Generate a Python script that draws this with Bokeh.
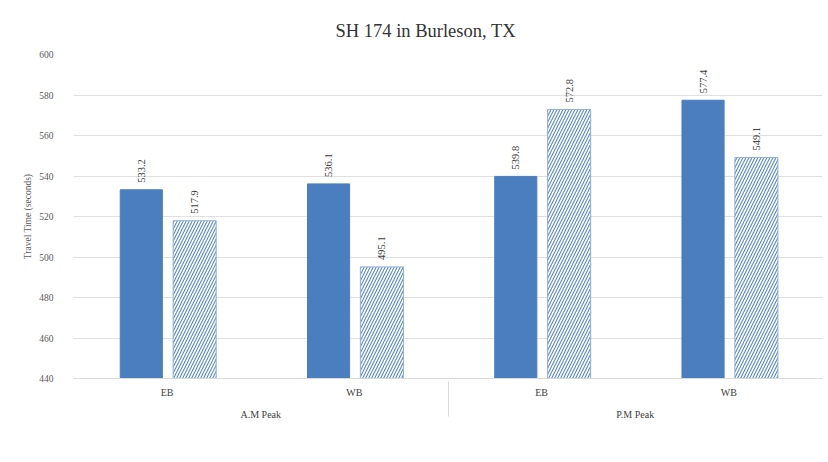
from bokeh.plotting import figure
from bokeh.models import (ColumnDataSource, FactorRange, Legend, LegendItem,
                          LabelSet, FixedTicker)
from bokeh.transform import dodge
from bokeh.embed import file_html
from bokeh.resources import INLINE

periods = ["A.M Peak", "A.M Peak", "P.M Peak", "P.M Peak"]
directions = ["EB", "WB", "EB", "WB"]
normal_tod = [533.2, 536.1, 539.8, 577.4]
weather_responsive = [517.9, 495.1, 572.8, 549.1]
y_ticks = [440, 460, 480, 500, 520, 540, 560, 580, 600]

factors = list(zip(periods, directions))
src = ColumnDataSource(dict(
    x=factors,
    normal=normal_tod,
    weather=weather_responsive,
    normal_lbl=[f"{v:.1f}" for v in normal_tod],
    weather_lbl=[f"{v:.1f}" for v in weather_responsive],
))

FONT = "Liberation Serif"
BLUE = "#4a7ebf"

p = figure(frame_width=749, frame_height=324, output_backend="svg",
           toolbar_location=None,
           x_range=FactorRange(*factors, factor_padding=0, group_padding=0,
                               range_padding=0),
           y_range=(440, 600),
           min_border_left=73, min_border_right=6, min_border_top=54,
           min_border_bottom=60,
           title="SH 174 in Burleson, TX")

p.title.align = "left"
p.title.offset = 262
p.title.text_font = FONT
p.title.text_font_size = "18.5px"
p.title.text_font_style = "normal"
p.title.text_color = "#333333"
p.title.standoff = 27

r1 = p.vbar(x=dodge("x", -0.138, range=p.x_range), top="normal", bottom=440,
            width=0.225, source=src, fill_color=BLUE, line_color=BLUE)
r2 = p.vbar(x=dodge("x", 0.147, range=p.x_range), top="weather", bottom=440,
            width=0.23, source=src, fill_color="white", line_color="#8fb0d8",
            hatch_pattern="/", hatch_color="#5a88c4", hatch_scale=6,
            hatch_weight=1.1)

for col, lbl, off in (("normal", "normal_lbl", -0.138), ("weather", "weather_lbl", 0.147)):
    p.add_layout(LabelSet(x=dodge("x", off, range=p.x_range), y=col, text=lbl,
                          source=src, angle=1.5708, x_offset=0, y_offset=7,
                          text_font=FONT, text_font_size="10.5px",
                          text_color="#404040", text_align="left",
                          text_baseline="middle"))

# axes
p.yaxis.ticker = FixedTicker(ticks=y_ticks)
p.yaxis.axis_line_color = None
p.yaxis.major_tick_line_color = None
p.yaxis.minor_tick_line_color = None
p.yaxis.major_label_standoff = 14
p.yaxis.major_label_text_font = FONT
p.yaxis.major_label_text_font_size = "9.5px"
p.yaxis.major_label_text_color = "#595959"
p.yaxis.axis_label = "Travel Time (seconds)"
p.yaxis.axis_label_text_font = FONT
p.yaxis.axis_label_text_font_size = "9.5px"
p.yaxis.axis_label_text_font_style = "normal"
p.yaxis.axis_label_text_color = "#595959"
p.yaxis.axis_label_standoff = 3

p.xaxis.axis_line_color = "#d9d9d9"
p.xaxis.major_tick_line_color = None
p.xaxis.major_tick_out = 0
p.xaxis.major_tick_in = 0
p.xaxis.major_label_standoff = 8
p.xaxis.major_label_text_font = FONT
p.xaxis.major_label_text_font_size = "10px"
p.xaxis.major_label_text_color = "#404040"
p.xaxis.group_text_font = FONT
p.xaxis.group_text_font_size = "10px"
p.xaxis.group_text_font_style = "normal"
p.xaxis.group_text_color = "#404040"
p.xaxis.separator_line_color = "#d9d9d9"
p.xaxis.separator_line_width = 1

p.xgrid.grid_line_color = None
p.ygrid.grid_line_color = "#e0e0e0"
p.outline_line_color = None

legend = Legend(items=[LegendItem(label="Normal TOD", renderers=[r1]),
                       LegendItem(label="Weather Responsive", renderers=[r2])],
                orientation="horizontal", location="center",
                label_text_font=FONT, label_text_font_size="10px",
                label_text_color="#404040", glyph_width=7, glyph_height=7,
                spacing=14, padding=0, margin=0, label_standoff=3,
                label_height=11,
                border_line_color=None, background_fill_alpha=0)
p.add_layout(legend, "below")

open("out.html", "w").write(file_html(p, INLINE))
